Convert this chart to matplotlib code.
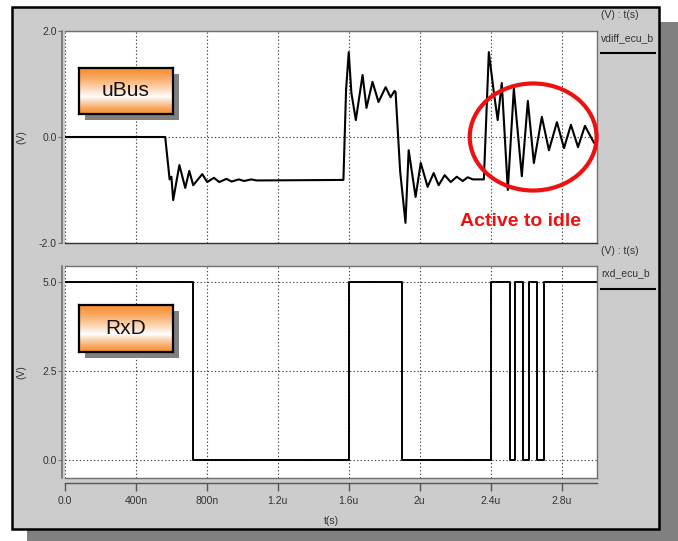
import numpy as np
import matplotlib
matplotlib.use("Agg")
import matplotlib.pyplot as plt
from matplotlib.patches import Rectangle, Ellipse
from matplotlib.lines import Line2D
from matplotlib.transforms import blended_transform_factory

plt.rcParams['font.family'] = ['Liberation Sans Narrow', 'Liberation Sans', 'DejaVu Sans']

# ---- data (time in microseconds) ----
t_bus = [0.0, 0.565, 0.59, 0.60, 0.61, 0.645, 0.678, 0.701, 0.723, 0.774, 0.802,
         0.84, 0.87, 0.91, 0.94, 0.98, 1.01, 1.05, 1.08, 1.57,
         1.585, 1.60, 1.615, 1.64, 1.678, 1.70, 1.734, 1.768, 1.808, 1.836, 1.858, 1.864,
         1.89, 1.92, 1.938, 1.977, 2.006, 2.045, 2.079, 2.107, 2.141, 2.175, 2.209,
         2.243, 2.271, 2.30, 2.362,
         2.39, 2.418, 2.44, 2.463, 2.497, 2.531, 2.576, 2.61, 2.644, 2.689, 2.729,
         2.774, 2.814, 2.853, 2.893, 2.932, 2.983, 3.0]
v_bus = [0.0, 0.0, -0.80, -0.75, -1.19, -0.53, -0.96, -0.64, -0.91, -0.70, -0.85,
         -0.77, -0.85, -0.79, -0.84, -0.80, -0.83, -0.80, -0.82, -0.81,
         0.89, 1.60, 0.83, 0.32, 1.17, 0.55, 1.04, 0.66, 0.94, 0.75, 0.87, 0.85,
         -0.65, -1.62, -0.25, -1.13, -0.49, -0.94, -0.68, -0.91, -0.72, -0.85, -0.75,
         -0.83, -0.76, -0.80, -0.80,
         1.60, 0.85, 0.32, 1.02, -1.00, 0.91, -0.74, 0.68, -0.49, 0.38, -0.25,
         0.28, -0.21, 0.23, -0.19, 0.21, -0.11, -0.06]

t_rxd = [0.0, 0.72, 1.60, 1.90, 2.40, 2.51, 2.538, 2.58, 2.614, 2.659, 2.702, 3.0]
v_rxd = [5, 0, 5, 0, 5, 0, 5, 0, 5, 0, 5, 5]

x_ticks = [0.0, 0.4, 0.8, 1.2, 1.6, 2.0, 2.4, 2.8]
x_ticklabels = ['0.0', '400n', '800n', '1.2u', '1.6u', '2u', '2.4u', '2.8u']
bus_yticks = [-2.0, 0.0, 2.0]
bus_yticklabels = ['-2.0', '0.0', '2.0']
rxd_yticks = [0.0, 2.5, 5.0]
rxd_yticklabels = ['0.0', '2.5', '5.0']

# ---- layout helpers (pixel coordinates, origin top-left) ----
W, H = 678, 541
DPI = 100
fig = plt.figure(figsize=(W / DPI, H / DPI), dpi=DPI)
fig.patch.set_facecolor('white')


def rect(x0, y0, x1, y1):
    return [x0 / W, 1 - y1 / H, (x1 - x0) / W, (y1 - y0) / H]


def fx(x):
    return x / W


def fy(y):
    return 1 - y / H


# drop shadow and frame
fig.patches.append(Rectangle((fx(27), fy(541)), fx(678) - fx(27), fy(22) - fy(541),
                             transform=fig.transFigure, facecolor='#808080',
                             edgecolor='none', zorder=-3))
fig.patches.append(Rectangle((fx(12), fy(529)), fx(659) - fx(12), fy(7) - fy(529),
                             transform=fig.transFigure, facecolor='#cccccc',
                             edgecolor='black', linewidth=1.8, zorder=-2))

tick_font = dict(fontsize=7.5, color='#333333')
grid_kw = dict(color='#444444', linestyle=(0, (1.2, 2.0)), linewidth=0.8)


def style_panel(ax, yticks, yticklabels):
    ax.set_facecolor('white')
    for s in ['top', 'right', 'bottom']:
        ax.spines[s].set_color('#707070')
        ax.spines[s].set_linewidth(1.0)
    ax.spines['left'].set_position(('outward', 2))
    ax.spines['left'].set_color('#707070')
    ax.spines['left'].set_linewidth(1.2)
    ax.set_xlim(0, 3.0)
    ax.set_xticks(x_ticks)
    ax.set_yticks(yticks)
    ax.set_yticklabels(yticklabels, **tick_font)
    ax.tick_params(axis='y', direction='out', length=3, width=0.8, color='#707070', pad=1)
    ax.tick_params(axis='x', length=0, labelbottom=False)
    ax.grid(True, **grid_kw)
    ax.set_axisbelow(True)


# ---- top panel: differential bus voltage ----
ax1 = fig.add_axes(rect(65, 31, 597, 243))
ax1.plot(t_bus, v_bus, color='black', linewidth=1.5, solid_joinstyle='round')
ax1.set_ylim(-2.0, 2.0)
style_panel(ax1, bus_yticks, bus_yticklabels)
ax1.spines['bottom'].set_color('#303030')

ax1.add_patch(Ellipse((2.64, 0.0), 0.715, 2.02, fill=False, edgecolor='#ee1111',
                      linewidth=3.0, clip_on=False, zorder=5))
ax1.text(2.57, -1.6, 'Active to idle', color='#ee1111', fontsize=14,
         fontweight='bold', ha='center', va='center',
         family=['Liberation Sans', 'DejaVu Sans'], zorder=6)

# ---- bottom panel: RxD ----
ax2 = fig.add_axes(rect(65, 266, 597, 478))
ax2.plot(t_rxd, v_rxd, color='black', linewidth=1.4, drawstyle='steps-post')
ax2.set_ylim(-0.5, 5.45)
style_panel(ax2, rxd_yticks, rxd_yticklabels)

# separate time axis below the lower panel
axx = fig.add_axes(rect(65, 482, 597, 483))
axx.set_xlim(0, 3.0)
axx.set_ylim(0, 1)
for s in ['top', 'right', 'left']:
    axx.spines[s].set_visible(False)
axx.spines['bottom'].set_color('#555555')
axx.spines['bottom'].set_linewidth(1.0)
axx.patch.set_alpha(0)
axx.set_yticks([])
axx.set_xticks(x_ticks)
axx.set_xticklabels([])
axx.tick_params(axis='x', direction='out', length=6, width=1.0, color='#555555')
label_tr = blended_transform_factory(axx.transData, fig.transFigure)
for t, lab in zip(x_ticks, x_ticklabels):
    axx.text(t, fy(501), lab, transform=label_tr, ha='center', va='center', **tick_font)

fig.text(fx(331), fy(521), 't(s)', ha='center', va='center', **tick_font)
fig.text(fx(21), fy(137), '(V)', rotation=90, ha='center', va='center', **tick_font)
fig.text(fx(21), fy(372), '(V)', rotation=90, ha='center', va='center', **tick_font)

# trace legends on the right
for y_head, y_name, y_line, name in [(15, 38, 53, 'vdiff_ecu_b'), (251, 273, 289, 'rxd_ecu_b')]:
    fig.text(fx(601), fy(y_head), '(V) : t(s)', ha='left', va='center', **tick_font)
    fig.text(fx(601), fy(y_name), name, ha='left', va='center', **tick_font)
    fig.lines.append(Line2D([fx(601), fx(655)], [fy(y_line), fy(y_line)],
                            transform=fig.transFigure, color='black', linewidth=1.5))

# ---- labelled boxes with orange gradient ----
grad_pos = np.linspace(0, 1, 200)
orange = np.array([0.97, 0.56, 0.20])
white = np.array([1.0, 1.0, 1.0])
wmid = 0.62
weight = np.where(grad_pos < wmid, grad_pos / wmid, (1 - grad_pos) / (1 - wmid))
weight = np.clip(weight, 0, 1) ** 1.3
grad = orange[None, :] * (1 - weight[:, None]) + white[None, :] * weight[:, None]
grad_img = np.repeat(grad[:, None, :], 2, axis=1)

for (x0, y0, x1, y1, label) in [(79, 68, 173, 114, 'uBus'), (79, 305, 173, 352, 'RxD')]:
    fig.patches.append(Rectangle((fx(x0 + 6), fy(y1 + 6)), fx(x1) - fx(x0), fy(y0) - fy(y1),
                                 transform=fig.transFigure, facecolor='#808080',
                                 edgecolor='none', zorder=1))
    axb = fig.add_axes(rect(x0, y0, x1, y1), zorder=2)
    axb.imshow(grad_img, aspect='auto', extent=[0, 1, 0, 1], origin='upper')
    axb.set_xticks([])
    axb.set_yticks([])
    for s in axb.spines.values():
        s.set_color('black')
        s.set_linewidth(1.6)
    axb.text(0.5, 0.5, label, ha='center', va='center', fontsize=15,
             family=['Liberation Sans', 'DejaVu Sans'], color='#111111')

fig.savefig('out.png', dpi=DPI)
